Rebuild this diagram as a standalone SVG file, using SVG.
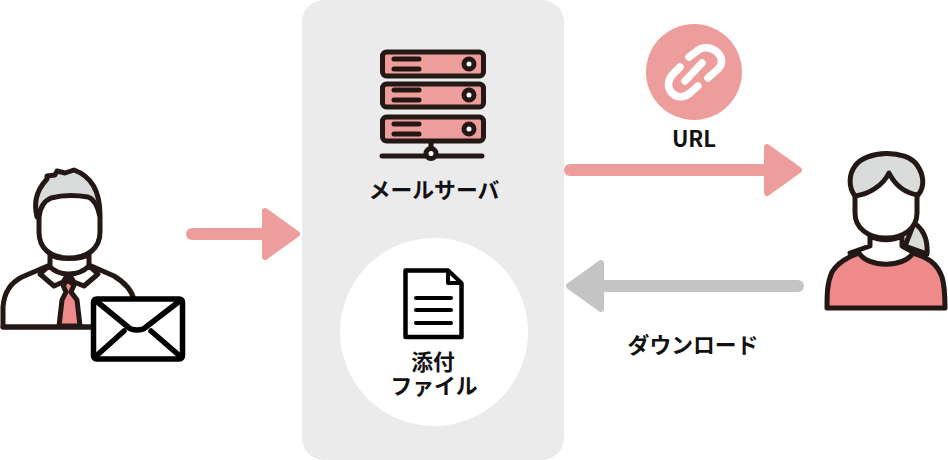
<svg xmlns="http://www.w3.org/2000/svg" width="948" height="460" viewBox="0 0 948 460">
<style>
.t{font-family:"Noto Sans CJK JP","Noto Sans",sans-serif;font-weight:700;font-size:21.800px;fill:#111;text-anchor:middle}
.k{stroke:#231815;stroke-width:5;stroke-linejoin:round;stroke-linecap:round}
.b{stroke:#000;stroke-width:5.500;stroke-linejoin:round;stroke-linecap:round}
.a{fill:none;stroke-width:12;stroke-linecap:round}
</style>
<rect id="server-panel" x="302" y="0" width="262" height="460" rx="22" fill="#ebebeb"/>
<g id="connectors">
<path class="a" stroke="#ee9d9d" d="M192 234H282"/>
<path fill="#ee9d9d" stroke="#ee9d9d" stroke-width="6" stroke-linejoin="round" d="M265 211L297 234L265 257Z"/>
<path class="a" stroke="#ee9d9d" d="M570 170H784"/>
<path fill="#ee9d9d" stroke="#ee9d9d" stroke-width="6" stroke-linejoin="round" d="M767 147L799 170L767 193Z"/>
<path class="a" stroke="#c4c4c4" d="M798 286H586"/>
<path fill="#c4c4c4" stroke="#c4c4c4" stroke-width="6" stroke-linejoin="round" d="M601 263L569 286L601 309Z"/>
</g>
<g id="sender">
<path class="k" fill="#d9dcdb" d="M37 217C34 204 35 192 47 179L47 176L55 175L57 171L65 173L74 170C88 175 100 187 100 215Z"/>
<path class="k" fill="#fff" d="M39 217C40 208 44 201 51 198C62 195 76 195 88 197C94 199 98 207 100 217V232C100 248 88 258 69 258C50 258 39 248 39 232Z"/>
<path class="k" fill="#fff" d="M50 254V265L22 277C10 283 4 293 3 307L3 327H134V300C132 291 124 282 114 276L89 265V254C82 260 56 260 50 254Z"/>
<path class="k" fill="#fff" d="M49 266L40 274L54 286L63 282L68 274C60 274 54 271 49 266ZM89 266L98 274L84 286L74 282L69 274C77 274 84 271 89 266Z"/>
<path class="k" fill="#ee8a8a" stroke-width="4.500" d="M68 280L63 285L66 292L62 300L59 326H80L77 300L71 292L74 285Z"/>
<path d="M3 327H135" class="k" fill="none" stroke-width="6"/>
<rect x="93.500" y="299" width="89" height="60" rx="3" class="b" fill="#fff"/>
<path class="b" fill="none" d="M95 300L128 327C132 331 142 331 146 327L181 300M95 357L124 331M181 357L151 331"/>
</g>
<g id="mail-server">
<g class="k" fill="#ee9d9d">
<rect x="382.500" y="52" width="101" height="24" rx="4"/>
<rect x="382.500" y="84" width="101" height="23" rx="4"/>
<rect x="382.500" y="117" width="101" height="24" rx="4"/>
</g>
<path class="k" fill="none" stroke-width="4.500" d="M394 59H419M394 69H419M394 90H419M394 100H419M394 124H419M394 134H419"/>
<g class="k" fill="#fff"><circle cx="469" cy="64" r="5"/><circle cx="469" cy="95" r="5"/><circle cx="469" cy="129" r="5"/></g>
<path class="k" fill="none" d="M382 156H482M431 142V148"/>
<circle class="k" fill="#fff" cx="431" cy="153.500" r="5"/>
<text class="t" x="434" y="198">メールサーバ</text>
</g>
<g id="attachment">
<circle cx="434" cy="332" r="94" fill="#fff"/>
<path fill="#fff" stroke="#000" stroke-width="4.500" stroke-linejoin="round" d="M405.500 270.500H448L461.500 284V337H405.500Z"/>
<path fill="#fff" stroke="#000" stroke-width="4" stroke-linejoin="round" d="M448 270.500V283H461.500Z"/>
<path stroke="#000" stroke-width="4" stroke-linecap="round" d="M416 298H451M416 310H451M416 323H451"/>
<text class="t" x="433" y="370">添付</text>
<text class="t" x="434" y="394">ファイル</text>
</g>
<g id="url-link">
<circle cx="694" cy="72" r="48" fill="#ee9d9d"/>
<g fill="none" stroke="#fff" stroke-width="7.500" stroke-linecap="round" stroke-linejoin="round">
<path d="M680 67L674 73C667 80 667 88 672 93C677 98 684 98 690 93L698 86"/>
<path d="M689 57L697 51C703 46 711 47 717 52C723 58 723 64 718 69L708 78"/>
<path d="M685 81L702 63"/>
</g>
<text class="t" x="694" y="147" style="font-size:22px">URL</text>
</g>
<g id="recipient">
<path class="k" fill="#d9dcdb" d="M914 223C923 229 928 240 927 254L905 246Z"/>
<path class="k" fill="#fff" d="M855 170H917V213C917 228 904 238 886 238C868 238 855 228 855 213Z"/>
<path class="k" fill="#d9dcdb" d="M855 196C848 187 849 174 855 166C866 150 906 149 917 165C924 175 925 187 918 195C905 193 895 185 889 173C883 185 870 194 855 196Z"/>
<path class="k" fill="#fff" d="M870 236V246L850 253L866 268L890 270L920 256L902 246V236C892 241 880 241 870 236Z"/>
<path class="k" fill="#ee8a8a" d="M859 253C868 268 904 268 913 253C927 257 937 263 942 277C945 287 945 298 945 308H827C827 295 827 283 832 272C838 262 848 257 859 253Z"/>
</g>
<text class="t" x="693" y="353">ダウンロード</text>
</svg>
